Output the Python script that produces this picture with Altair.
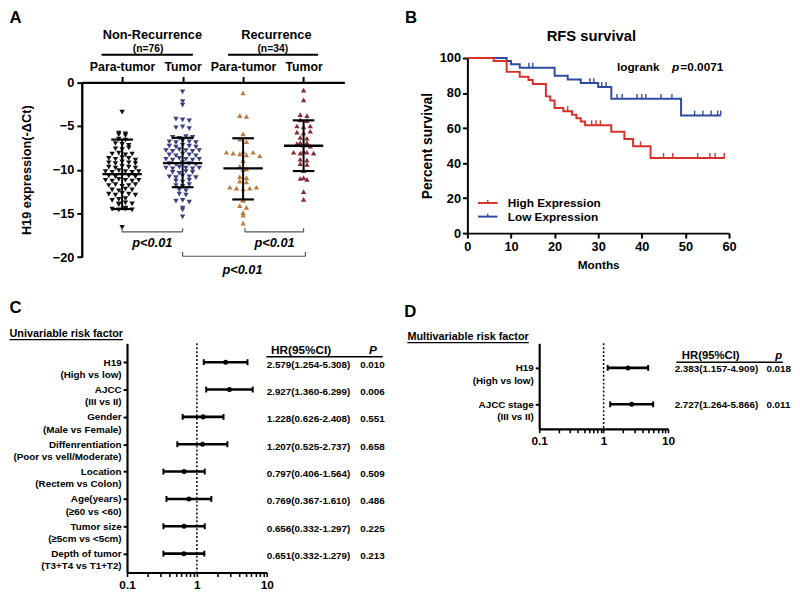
import json
import altair as alt
import pandas as pd

FONT = "Liberation Sans"

# ======================= DATA =======================
# ---- Panel A: H19 expression (-dCt) per group
groupA_ticklabels = ["Para-tumor", "Tumor", "Para-tumor", "Tumor"]
groupA_headers = ["Non-Recurrence", "Recurrence"]
groupA_counts = ["(n=76)", "(n=34)"]

nr_para = [-3.4,
           -5.8, -5.9, -6.0, -6.1,
           -6.5, -6.6,
           -7.0, -7.1, -7.2,
           -7.6, -7.7, -7.5,
           -8.2, -8.1, -8.3, -8.2,
           -8.7, -8.8, -8.6, -8.7, -8.9,
           -9.2, -9.3, -9.1, -9.2, -9.3,
           -9.7, -9.8, -9.6, -9.7, -9.8,
           -10.2, -10.3, -10.1, -10.2, -10.3, -10.2,
           -10.7, -10.8, -10.6, -10.7, -10.8,
           -11.2, -11.3, -11.1, -11.2, -11.3, -11.2,
           -11.8, -11.7, -11.9, -11.8, -11.7,
           -12.3, -12.4, -12.2, -12.3,
           -12.8, -12.9, -12.7, -12.8, -12.9,
           -13.4, -13.3, -13.5,
           -13.9, -14.0, -13.8, -13.9,
           -14.5, -14.6, -14.4, -14.5, -14.6,
           -16.6]
nr_tumor = [-1.1, -2.2, -2.6,
            -4.2, -4.3, -4.4,
            -5.2, -5.1, -5.3,
            -6.3, -6.4, -6.2, -6.3,
            -6.8, -6.9, -6.7, -6.8, -6.9,
            -7.3, -7.4, -7.2, -7.3, -7.4,
            -7.8, -7.9, -7.7, -7.8, -7.9, -7.8,
            -8.3, -8.4, -8.2, -8.3, -8.4,
            -8.8, -8.9, -8.7, -8.8, -8.9, -8.8,
            -9.3, -9.4, -9.2, -9.3, -9.4,
            -9.8, -9.9, -9.7, -9.8, -9.9, -9.8,
            -10.3, -10.4, -10.2, -10.3,
            -10.8, -10.9, -10.7, -10.8, -10.9,
            -11.3, -11.4, -11.2,
            -11.8, -11.9, -11.7,
            -12.3, -12.4,
            -12.8, -12.9,
            -13.6, -13.5, -13.7,
            -14.4, -14.6,
            -15.4]
r_para = [-1.2, -3.8, -3.9, -5.9, -6.5, -6.8,
          -7.9, -8.0, -8.1, -8.2, -8.3, -8.0, -8.4,
          -8.9, -9.0, -9.6, -9.9, -10.0,
          -10.8, -10.9, -11.3, -11.4,
          -12.0, -12.1, -12.2, -12.1, -12.0,
          -13.4, -13.5, -14.1, -14.3, -14.9, -15.2, -16.1]
r_tumor = [-0.9, -2.0, -3.7, -3.8, -4.3, -4.4,
           -5.0, -5.1, -5.0, -5.7, -5.8, -5.6,
           -6.3, -6.4, -6.9, -7.0, -6.9,
           -7.2, -7.3,
           -8.0, -8.1, -7.9, -8.0, -8.1,
           -8.8, -8.9, -9.3, -9.4,
           -10.1, -11.0, -11.1, -10.9, -12.5, -13.4]
groupA_values = [nr_para, nr_tumor, r_para, r_tumor]
groupA_mean = [-10.5, -9.25, -9.85, -7.25]
groupA_sd_top = [-6.55, -6.35, -6.4, -4.35]
groupA_sd_bottom = [-14.5, -12.0, -13.4, -10.15]
pvalue_label = "p<0.01"

# ---- Panel B: Kaplan-Meier RFS
km_series = ["High Expression", "Low Expression"]
high_t = [0, 6, 9, 12, 14, 15, 18, 19, 20, 22, 24, 25, 26, 27, 33, 36, 38, 42, 59]
high_s = [100, 98.3, 92.1, 89.3, 87.4, 85.2, 78.1, 75.8, 71.5, 69.6, 67.6, 65.6, 63.7,
          61.6, 57.9, 53.7, 49.6, 42.9, 42.9]
high_cens_t = [23, 28.5, 29.5, 30.5, 39.7, 45.0, 47.1, 52.8, 55.6, 56.8, 58.9]
high_cens_s = [69.6, 61.6, 61.6, 61.6, 49.6, 42.9, 42.9, 42.9, 42.9, 42.9, 42.9]
low_t = [0, 9, 10, 12, 20, 23, 26, 30, 33, 49, 58.1]
low_s = [100, 98.3, 96.5, 94.5, 89.9, 87.8, 85.7, 83.5, 76.7, 67.2, 67.2]
low_cens_t = [14.1, 15.0, 28.1, 29.0, 30.8, 31.8, 34.3, 35.5, 38.9, 40.0, 40.9, 44.4,
              46.9, 52.1, 54.0, 55.9, 57.4, 58.1]
low_cens_s = [94.5, 94.5, 85.7, 85.7, 83.5, 83.5, 76.7, 76.7, 76.7, 76.7, 76.7, 76.7,
              76.7, 67.2, 67.2, 67.2, 67.2, 67.2]
km_title = "RFS survival"
logrank_label = "logrank"
logrank_p = "=0.0071"

# ---- Panel C: univariable Cox
uni_names = ["H19", "AJCC", "Gender", "Diffenrentiation", "Location", "Age(years)",
             "Tumor size", "Depth of tumor"]
uni_comps = ["(High vs low)", "(III vs II)", "(Male vs Female)", "(Poor vs vell/Moderate)",
             "(Rectem vs Colon)", "(\u226560 vs <60)", "(\u22655cm vs <5cm)", "(T3+T4 vs T1+T2)"]
uni_hr = [2.579, 2.927, 1.228, 1.207, 0.656, 0.769, 0.656, 0.651]       # as drawn
uni_lo = [1.254, 1.360, 0.626, 0.525, 0.332, 0.367, 0.332, 0.332]
uni_hi = [5.308, 6.299, 2.408, 2.737, 1.297, 1.610, 1.297, 1.279]
uni_hr_text = ["2.579(1.254-5.308)", "2.927(1.360-6.299)", "1.228(0.626-2.408)",
               "1.207(0.525-2.737)", "0.797(0.406-1.564)", "0.769(0.367-1.610)",
               "0.656(0.332-1.297)", "0.651(0.332-1.279)"]
uni_p_text = ["0.010", "0.006", "0.551", "0.658", "0.509", "0.486", "0.225", "0.213"]

# ---- Panel D: multivariable Cox
multi_names = ["H19", "AJCC stage"]
multi_comps = ["(High vs low)", "(III vs II)"]
multi_hr = [2.383, 2.727]
multi_lo = [1.157, 1.264]
multi_hi = [4.909, 5.866]
multi_hr_text = ["2.383(1.157-4.909)", "2.727(1.264-5.866)"]
multi_p_text = ["0.018", "0.011"]

log_tick_values = [0.1, 0.2, 0.3, 0.4, 0.5, 0.6, 0.7, 0.8, 0.9,
                   1, 2, 3, 4, 5, 6, 7, 8, 9, 10]

# ======================= STYLE =======================
groupA_colors = ["#111111", "#3f4082", "#bd7b40", "#8b2b37"]
groupA_shapes = ["triangle-down", "triangle-down", "triangle-up", "triangle-up"]
km_colors = ["#d9302a", "#2f4ba0"]


def letter(ch, dx, dy):
    return alt.Chart(pd.DataFrame({"t": [ch]})).mark_text(
        fontSize=17, fontWeight="bold", align="left", baseline="top", color="black"
    ).encode(x=alt.value(dx), y=alt.value(dy), text="t:N")


# ======================= PANEL A =======================
A_TOP = 24.7          # plot top (y = 0) below the row origin
A_BOTTOM = 202.4      # y = -20
WA, HA = 267, 203
xA_scale = alt.Scale(domain=[0.333, 4.675], nice=False, zero=False)
yA_scale = alt.Scale(domain=[-20, 0], range=[A_BOTTOM, A_TOP], nice=False, zero=False)
axA_x = alt.Axis(orient="top", offset=-A_TOP, values=[1, 2, 3, 4],
                 labelExpr=json.dumps(groupA_ticklabels) + "[datum.value - 1]",
                 title=None, tickSize=6, tickWidth=2, domainWidth=2.4, labelFontSize=12.5,
                 labelPadding=3, labelFlush=False, grid=False)
axA_y = alt.Axis(values=[0, -5, -10, -15, -20], title="H19 expression(-\u0394Ct)",
                 titleFontSize=13, titlePadding=19, labelFontSize=13, labelPadding=3,
                 tickSize=5, tickWidth=2, domainWidth=2.4, labelFlush=False, grid=False)


def XA(f):
    return alt.X(f, type="quantitative", scale=xA_scale, axis=axA_x)


def YA(f):
    return alt.Y(f, type="quantitative", scale=yA_scale, axis=axA_y)


rowsA = []
for gi, vals in enumerate(groupA_values):
    bins = {}
    for v in vals:
        key = int((v - 0.05) // 0.5)
        bins.setdefault(key, []).append(v)
    for key, vs in bins.items():
        n = len(vs)
        for k, v in enumerate(vs):
            rowsA.append({"group": gi + 1, "value": v,
                          "xpos": gi + 1 + (k - (n - 1) / 2) * 0.11})
dfA = pd.DataFrame(rowsA)

layersA = []
for gi in range(4):
    d = dfA[dfA["group"] == gi + 1]
    layersA.append(alt.Chart(d).mark_point(
        shape=groupA_shapes[gi], filled=True, size=30, opacity=1,
        color=groupA_colors[gi], strokeWidth=0
    ).encode(x=XA("xpos"), y=YA("value")))

statsA = pd.DataFrame({"group": [1, 2, 3, 4], "mean": groupA_mean,
                       "top": groupA_sd_top, "bottom": groupA_sd_bottom})
layersA.append(alt.Chart(statsA).mark_rule(color="black", strokeWidth=2).encode(
    x=XA("group"), y=YA("bottom"), y2="top"))
layersA.append(alt.Chart(statsA).mark_tick(orient="horizontal", size=40, thickness=2.4,
                                           color="black", opacity=1).encode(
    x=XA("group"), y=YA("mean")))
for f in ["top", "bottom"]:
    layersA.append(alt.Chart(statsA).mark_tick(orient="horizontal", size=22, thickness=2.2,
                                               color="black", opacity=1).encode(
        x=XA("group"), y=YA(f)))

# significance brackets (group positions, levels)
bracket_defs = [(1.0, 2.0, -17.1, -16.7), (3.03, 4.0, -17.1, -16.7), (2.0, 4.03, -19.9, -19.4)]
segs = []
for x1, x2, yl, yt in bracket_defs:
    segs.append({"x": x1, "x2": x2, "y": yl, "y2": yl})
    segs.append({"x": x1, "x2": x1, "y": yl, "y2": yt})
    segs.append({"x": x2, "x2": x2, "y": yl, "y2": yt})
layersA.append(alt.Chart(pd.DataFrame(segs)).mark_rule(color="#555555", strokeWidth=1.2).encode(
    x=XA("x"), x2="x2", y=YA("y"), y2="y2"))
ptxt = pd.DataFrame({"x": [1.5, 3.52, 2.99], "y": [-18.4, -18.4, -21.5]})
layersA.append(alt.Chart(ptxt).mark_text(fontSize=13, fontWeight="bold", fontStyle="italic",
                                         baseline="middle", color="black").encode(
    x=XA("x"), y=YA("y"), text=alt.value(pvalue_label)))

hdr = pd.DataFrame({"x": [1.5, 3.55], "y": [5.4, 5.4], "t": groupA_headers})
layersA.append(alt.Chart(hdr).mark_text(fontSize=13, fontWeight="bold", baseline="middle",
                                        color="black").encode(
    x=XA("x"), y=YA("y"), text="t:N"))
cnt = pd.DataFrame({"x": [1.43, 3.49], "y": [3.85, 3.85], "t": groupA_counts})
layersA.append(alt.Chart(cnt).mark_text(fontSize=10.5, fontWeight="bold", baseline="middle",
                                        color="black").encode(
    x=XA("x"), y=YA("y"), text="t:N"))
hl = pd.DataFrame({"x": [0.66, 2.75], "x2": [2.17, 4.24], "y": [3.15, 3.15]})
layersA.append(alt.Chart(hl).mark_rule(color="black", strokeWidth=2).encode(
    x=XA("x"), x2="x2", y=YA("y")))
layersA.append(letter("A", -73.5, -49))
panelA = alt.layer(*layersA).properties(width=WA, height=HA)

# ======================= PANEL B =======================
WB, HB = 266, 178
xB_scale = alt.Scale(domain=[0, 60], nice=False, zero=False)
yB_scale = alt.Scale(domain=[0, 100], nice=False, zero=False)
axB_x = alt.Axis(values=[0, 10, 20, 30, 40, 50, 60], title="Months", titleFontSize=12,
                 titlePadding=6, labelFontSize=13, labelPadding=3, tickSize=5, tickWidth=2,
                 domainWidth=2, labelFlush=False, grid=False)
axB_y = alt.Axis(values=[0, 20, 40, 60, 80, 100], title="Percent survival", titleFontSize=14,
                 titlePadding=5, labelFontSize=13, labelPadding=2, tickSize=5, tickWidth=2,
                 domainWidth=2, labelFlush=False, grid=False)


def XB(f):
    return alt.X(f, type="quantitative", scale=xB_scale, axis=axB_x)


def YB(f):
    return alt.Y(f, type="quantitative", scale=yB_scale, axis=axB_y)


km_high = pd.DataFrame({"t": high_t, "s": high_s})
km_low = pd.DataFrame({"t": low_t, "s": low_s})
cens_high = pd.DataFrame({"t": high_cens_t, "s": high_cens_s})
cens_low = pd.DataFrame({"t": low_cens_t, "s": low_cens_s})

layersB = [
    alt.Chart(km_low).mark_line(interpolate="step-after", strokeWidth=2, color=km_colors[1]).encode(
        x=XB("t"), y=YB("s")),
    alt.Chart(km_high).mark_line(interpolate="step-after", strokeWidth=2, color=km_colors[0]).encode(
        x=XB("t"), y=YB("s")),
    alt.Chart(cens_low).mark_tick(orient="vertical", size=5, thickness=1.4, yOffset=-2.5,
                                  opacity=1, color=km_colors[1]).encode(x=XB("t"), y=YB("s")),
    alt.Chart(cens_high).mark_tick(orient="vertical", size=5, thickness=1.4, yOffset=-2.5,
                                   opacity=1, color=km_colors[0]).encode(x=XB("t"), y=YB("s")),
]
layersB.append(alt.Chart(pd.DataFrame({"t": [km_title]})).mark_text(
    fontSize=15, fontWeight="bold", baseline="alphabetic", color="black").encode(
    x=alt.value(126), y=alt.value(-17.6), text="t:N"))
layersB.append(alt.Chart(pd.DataFrame({"t": [logrank_label]})).mark_text(
    fontSize=12, fontWeight="bold", align="left", baseline="alphabetic", color="black").encode(
    x=alt.value(152), y=alt.value(13), text="t:N"))
layersB.append(alt.Chart(pd.DataFrame({"t": ["p"]})).mark_text(
    fontSize=12, fontWeight="bold", fontStyle="italic", align="left", baseline="alphabetic",
    color="black").encode(x=alt.value(208), y=alt.value(13), text="t:N"))
layersB.append(alt.Chart(pd.DataFrame({"t": [logrank_p]})).mark_text(
    fontSize=12, fontWeight="bold", align="left", baseline="alphabetic", color="black").encode(
    x=alt.value(216.5), y=alt.value(13), text="t:N"))
for i, (lab, col) in enumerate(zip(km_series, km_colors)):
    ly = 147.4 + i * 13.8
    d = pd.DataFrame({"t": [lab]})
    layersB.append(alt.Chart(d).mark_rule(color=col, strokeWidth=2).encode(
        x=alt.value(10.7), x2=alt.value(30.7), y=alt.value(ly)))
    layersB.append(alt.Chart(d).mark_rule(color=col, strokeWidth=1.4).encode(
        x=alt.value(20.7), y=alt.value(ly - 3), y2=alt.value(ly)))
    layersB.append(alt.Chart(d).mark_text(fontSize=12, fontWeight="bold", align="left",
                                          baseline="middle", color="black").encode(
        x=alt.value(41), y=alt.value(ly), text="t:N"))
layersB.append(letter("B", -63.3, -49))
panelB = alt.layer(*layersB).properties(width=WB, height=HB)


# ======================= PANELS C & D =======================
def forest(names, comps, hr, lo, hi, hr_text, p_text, left, W, H, pad, tbl, title, let, p_head):
    labels = [n + "|" + c for n, c in zip(names, comps)]
    df = pd.DataFrame({"label": labels, "hr": hr, "lo": lo, "hi": hi,
                       "hr_text": hr_text, "p_text": p_text})
    xs = alt.Scale(type="log", domain=[0.1, 10], range=[left, left + W], nice=False)
    axx = alt.Axis(values=log_tick_values,
                   labelExpr="datum.value == 1 ? '1' : datum.value == 10 ? '10' : "
                             "abs(datum.value - 0.1) < 1e-9 ? '0.1' : ''",
                   title=None, tickSize=4, tickWidth=1.6, domainWidth=2.2, labelFontSize=12,
                   labelPadding=3, labelFlush=False, labelOverlap=False, grid=False)
    axy = alt.Axis(labelExpr="split(datum.label, '|')", title=None, labelFontSize=10,
                   labelLineHeight=12.5, tickSize=4, tickWidth=2, domainWidth=2.2,
                   labelPadding=2, grid=False, offset=-left)
    ys = alt.Scale(type="point", padding=pad)

    def X(f):
        return alt.X(f, type="quantitative", scale=xs, axis=axx)

    def Y():
        return alt.Y("label:N", sort=labels, scale=ys, axis=axy)

    layers = [
        alt.Chart(pd.DataFrame({"ref": [1]})).mark_rule(
            strokeDash=[2, 2], strokeWidth=1.5, color="black").encode(x=X("ref")),
        alt.Chart(df).mark_rule(strokeWidth=2.6, color="black").encode(x=X("lo"), x2="hi", y=Y()),
        alt.Chart(df).mark_tick(orient="vertical", size=6, thickness=2, color="black",
                                opacity=1).encode(x=X("lo"), y=Y()),
        alt.Chart(df).mark_tick(orient="vertical", size=6, thickness=2, color="black",
                                opacity=1).encode(x=X("hi"), y=Y()),
        alt.Chart(df).mark_circle(size=26, color="black", opacity=1).encode(x=X("hr"), y=Y()),
        alt.Chart(df).mark_text(fontSize=10, fontWeight="bold", align="left", baseline="middle",
                                dy=tbl["dy"], color="black").encode(
            x=alt.value(left + tbl["hr_x"]), y=Y(), text="hr_text:N"),
        alt.Chart(df).mark_text(fontSize=10, fontWeight="bold", align="left", baseline="middle",
                                dy=tbl["dy"], color="black").encode(
            x=alt.value(left + tbl["p_x"]), y=Y(), text="p_text:N"),
    ]
    hd = pd.DataFrame({"t": ["HR(95%CI)"]})
    layers.append(alt.Chart(hd).mark_text(fontSize=tbl["head_fs"], fontWeight="bold",
                                          baseline="middle", color="black").encode(
        x=alt.value(left + tbl["head_x"]), y=alt.value(tbl["head_y"]), text="t:N"))
    layers.append(alt.Chart(pd.DataFrame({"t": [p_head]})).mark_text(
        fontSize=tbl["head_fs"], fontWeight="bold", fontStyle="italic", baseline="middle",
        color="black").encode(x=alt.value(left + tbl["phead_x"]), y=alt.value(tbl["head_y"]),
                              text="t:N"))
    layers.append(alt.Chart(hd).mark_rule(strokeWidth=1.5, color="black").encode(
        x=alt.value(left + tbl["ul_x"]), x2=alt.value(left + tbl["ul_x2"]),
        y=alt.value(tbl["ul_y"])))
    tt = pd.DataFrame({"t": [title]})
    layers.append(alt.Chart(tt).mark_text(fontSize=11, fontWeight="bold", align="left",
                                          baseline="alphabetic", color="black").encode(
        x=alt.value(left + tbl["title_x"]), y=alt.value(tbl["title_y"]), text="t:N"))
    layers.append(alt.Chart(tt).mark_rule(strokeWidth=1.3, color="black").encode(
        x=alt.value(left + tbl["title_x"]), x2=alt.value(left + tbl["title_x2"]),
        y=alt.value(tbl["title_y"] + 2.3)))
    layers.append(letter(let, left + tbl["let_x"], tbl["let_y"]))
    return alt.layer(*layers).properties(width=left + W, height=H)


panelC = forest(uni_names, uni_comps, uni_hr, uni_lo, uni_hi, uni_hr_text, uni_p_text,
                46, 142, 233, 0.69,
                {"dy": 2.5, "hr_x": 142, "p_x": 237, "head_x": 177, "head_y": 7.2,
                 "head_fs": 12, "phead_x": 250, "ul_x": 141.7, "ul_x2": 260, "ul_y": 13.7,
                 "title_x": -119.5, "title_y": -6, "title_x2": -4,
                 "let_x": -119.5, "let_y": -43.6},
                "Univariable risk factor", "C", "P")
panelD = forest(multi_names, multi_comps, multi_hr, multi_lo, multi_hi, multi_hr_text,
                multi_p_text, 0, 131, 87, 0.675,
                {"dy": 1, "hr_x": 137.7, "p_x": 231, "head_x": 174.4, "head_y": 12.6,
                 "head_fs": 11.5, "phead_x": 243.4, "ul_x": 139.4, "ul_x2": 247.7,
                 "ul_y": 19.3, "title_x": -134, "title_y": -3, "title_x2": -10.6,
                 "let_x": -137.3, "let_y": -39.3},
                "Multivariable risk factor", "D", "p")

row1 = alt.hconcat(panelA, panelB, spacing=61)
row2 = alt.hconcat(panelC, panelD, spacing=18)
chart = alt.vconcat(row1, row2, spacing=22).properties(
    padding={"top": -4, "left": 0, "right": 0, "bottom": 0}
).configure(
    font=FONT
).configure_view(strokeWidth=0).configure_axis(
    domainColor="black", tickColor="black", labelColor="black", titleColor="black",
    labelFontWeight="bold", titleFontWeight="bold", grid=False, labelFont=FONT, titleFont=FONT
)

chart.save("out.html", embed_options={"renderer": "svg", "actions": False})
